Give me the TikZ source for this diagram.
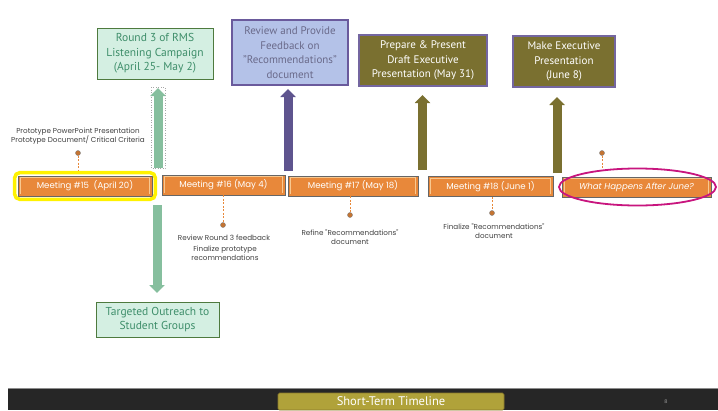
\documentclass[tikz,border=0pt]{standalone}
\usepackage{fontspec}
\setmainfont{PT Sans}
\newfontfamily\gothic{Poppins}
\usetikzlibrary{arrows.meta,shapes.geometric}
\definecolor{gfill}{HTML}{D4EFE2}
\definecolor{gborder}{HTML}{4E7A3E}
\definecolor{gtext}{HTML}{3E8E6A}
\definecolor{garr}{HTML}{86BF9E}
\definecolor{pfill}{HTML}{B4C2E8}
\definecolor{pborder}{HTML}{6A5A9C}
\definecolor{ptext}{HTML}{6A6A8A}
\definecolor{parr}{HTML}{5E548E}
\definecolor{ofill}{HTML}{7A7030}
\definecolor{oborder}{HTML}{7466A0}
\definecolor{orng}{HTML}{E8883A}
\definecolor{orlight}{HTML}{F8C890}
\definecolor{mag}{HTML}{C8157E}
\definecolor{barcol}{HTML}{262626}
\definecolor{ttl}{HTML}{B0A23A}
\definecolor{ttlb}{HTML}{8B7A2A}
\definecolor{smalltext}{HTML}{404040}
\tikzset{
  gbox/.style={draw=gborder, line width=0.9pt, fill=gfill, text=gtext, align=center, font=\fontsize{11.5}{14.5}\selectfont, inner sep=0pt},
  pbox/.style={draw=pborder, line width=1.6pt, fill=pfill, text=ptext, align=center, font=\fontsize{11}{14.5}\selectfont, inner sep=0pt},
  obox/.style={draw=oborder, line width=1.2pt, fill=ofill, text=white, align=center, font=\fontsize{11}{14.5}\selectfont, inner sep=0pt},
  meet/.style={draw=black!60, line width=0.6pt, fill=orng, text=white, font=\gothic\fontsize{8.6}{9}\selectfont, minimum height=20pt, inner sep=0pt},
  blockarr/.style={-{Triangle[width=15pt,length=8pt]}, line width=9pt, draw=#1},
  lead/.style={draw=orng, dashed, dash pattern=on 2pt off 1.5pt, line width=0.7pt},
  dotnode/.style={circle, fill=orng!85!black, draw=black!50, line width=0.4pt, minimum size=5pt, inner sep=0pt},
  small/.style={text=smalltext, align=center, font=\gothic\fontsize{7.2}{9}\selectfont, inner sep=0pt},
}
\begin{document}
\begin{tikzpicture}[x=1pt,y=-1pt]
\useasboundingbox[fill=white] (0,0) rectangle (718,410);

% top boxes
\node[gbox, minimum width=116pt, minimum height=51pt] (g1) at (155,53.5) {Round 3 of RMS\\Listening Campaign\\(April 25- May 2)};
\node[pbox, minimum width=116pt, minimum height=65pt] (p1) at (290,52.5) {Review and Provide\\Feedback on\\"Recommendations"\\document};
\node[obox, minimum width=128pt, minimum height=51pt] (o1) at (423,60.5) {Prepare \& Present\\Draft Executive\\Presentation (May 31)};
\node[obox, minimum width=102pt, minimum height=51pt] (o2) at (564,61.5) {Make Executive\\Presentation\\(June 8)};
\node[gbox, minimum width=123pt, minimum height=35pt] (g2) at (157.5,319.5) {Targeted Outreach to\\Student Groups};

% meetings
\node[meet, minimum width=134pt] (m15) at (85,186) {Meeting \#15\ \ (April 20)};
\node[meet, minimum width=123pt] (m16) at (223.5,185) {Meeting \#16 (May 4)};
\node[meet, minimum width=130pt] (m17) at (353,186) {Meeting \#17 (May 18)};
\node[meet, minimum width=125pt] (m18) at (490.5,186.5) {Meeting \#18 (June 1)};
\node[meet, minimum width=149pt, font=\gothic\itshape\fontsize{8.6}{9}\selectfont] (m19) at (636.5,187) {What Happens After June?};
\foreach \m in {m15,m16,m17,m18,m19}{
  \draw[orlight, line width=0.8pt] ([shift={(2.5pt,-2.5pt)}]\m.north west) -- ([shift={(2.5pt,2.5pt)}]\m.south west);
  \draw[orlight, line width=0.8pt] ([shift={(-2.5pt,-2.5pt)}]\m.north east) -- ([shift={(-2.5pt,2.5pt)}]\m.south east);
  \draw[orlight, line width=0.5pt] ([shift={(2.5pt,-1.8pt)}]\m.north west) -- ([shift={(-2.5pt,-1.8pt)}]\m.north east);
}

% highlights
\draw[yellow, line width=3.5pt, rounded corners=5pt] ([shift={(-3pt,3pt)}]m15.north west) rectangle ([shift={(3pt,-3pt)}]m15.south east);
\node[ellipse, draw=mag, line width=1.8pt, minimum width=157pt, minimum height=37pt] (ell) at (637.5,187) {};

% block arrows
\coordinate (ga1) at (158,168);
\coordinate (ga2) at (158,88);
\draw[black!35, dotted, line width=0.5pt] (151,87) rectangle (165,168);
\draw[blockarr=garr] (ga1) -- (ga2);
\coordinate (gb1) at (157,205);
\coordinate (gb2) at (157,293);
\draw[blockarr=garr] (gb1) -- (gb2);
\coordinate (pa1) at (288,171);
\coordinate (pa2) at (288,89);
\draw[blockarr=parr] (pa1) -- (pa2);
\coordinate (oa1) at (422.5,170);
\coordinate (oa2) at (422.5,95);
\draw[blockarr=ofill] (oa1) -- (oa2);
\coordinate (ob1) at (557,173);
\coordinate (ob2) at (557,97);
\draw[blockarr=ofill] (ob1) -- (ob2);

% leaders
\node[dotnode] (d15) at (78,153) {};
\draw[lead] (d15) -- (78,170);
\node[small] (t15) at (78,136.5) {Prototype PowerPoint Presentation\\Prototype Document/ Critical Criteria};
\node[dotnode] (d16) at (223,225) {};
\draw[lead] (m16.south -| d16) -- (d16);
\node[small] (t16a) at (224,238) {Review Round 3 feedback};
\node[small] (t16b) at (225,253) {Finalize prototype\\recommendations};
\node[dotnode] (d17) at (350,215) {};
\draw[lead] (m17.south -| d17) -- (d17);
\node[small] (t17) at (350,237) {Refine "Recommendations"\\document};
\node[dotnode] (d18) at (492,213) {};
\draw[lead] (m18.south -| d18) -- (d18);
\node[small] (t18) at (494,231.5) {Finalize "Recommendations"\\document};
\node[dotnode] (d19) at (602,153) {};
\draw[lead] (d19) -- (602,168);

% bottom bar
\fill[barcol] (8,388) rectangle (718,410);
\draw[black!45, line width=0.8pt] (8,388) -- (718,388);
\node[draw=ttlb, line width=0.6pt, fill=ttl, text=white, rounded corners=1.5pt, minimum width=226pt, minimum height=17pt, inner sep=0pt, font=\fontsize{12.5}{13}\selectfont] (title) at (391,401.5) {Short-Term Timeline};
\node[text=black!40, font=\gothic\fontsize{5}{6}\selectfont, inner sep=0pt] (pg) at (666,402) {8};
\end{tikzpicture}
\end{document}
